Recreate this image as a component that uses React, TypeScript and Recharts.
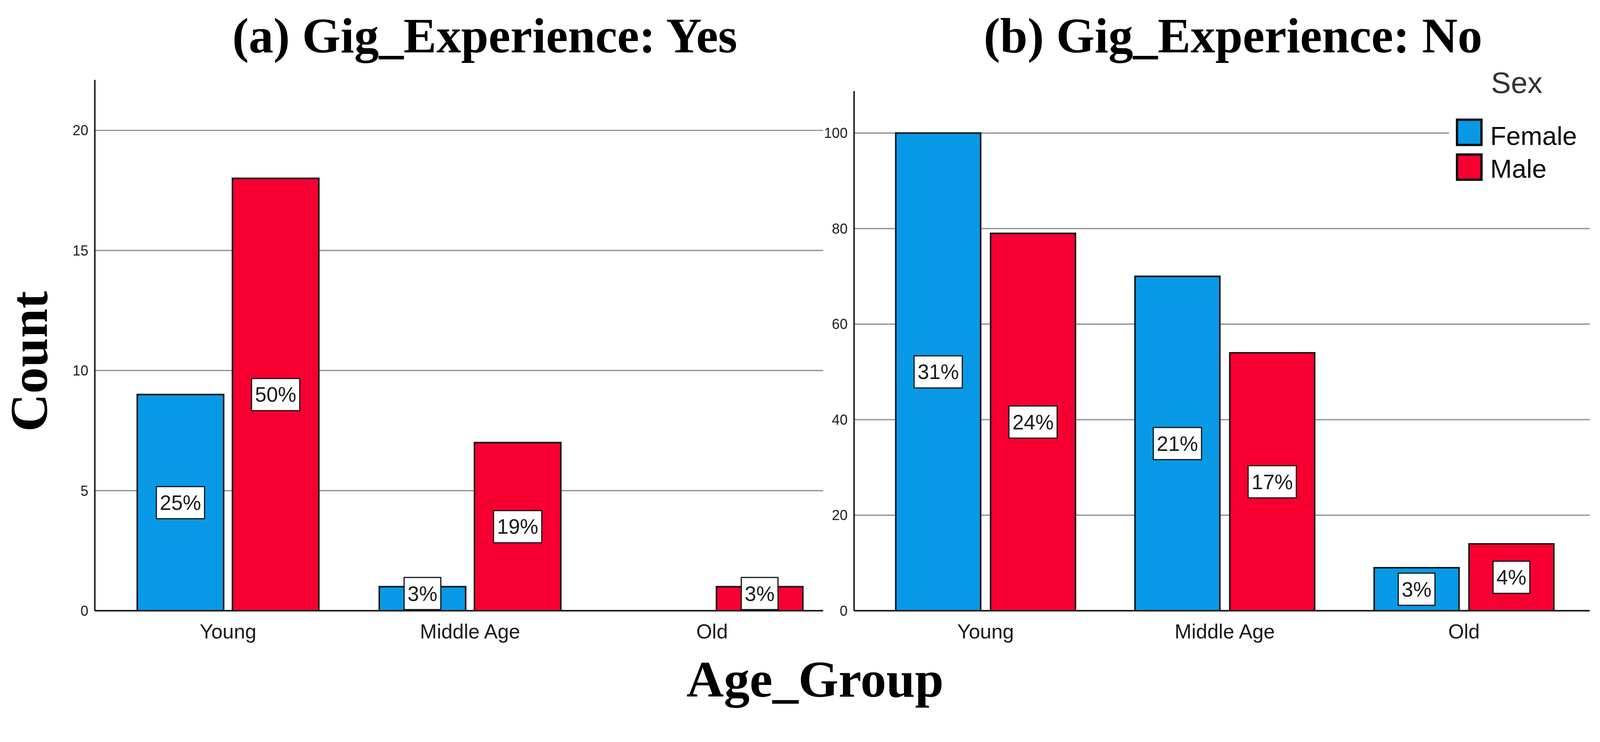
import React from 'react';
import { BarChart, Bar, XAxis, YAxis, CartesianGrid, LabelList, Legend } from 'recharts';

const ageGroups = ['Young', 'Middle Age', 'Old'];

// (a) Gig_Experience: Yes
const yesFemale = [9, 1, 0];
const yesMale = [18, 7, 1];
const yesFemalePct = ['25%', '3%', ''];
const yesMalePct = ['50%', '19%', '3%'];
const yesTicks = [0, 5, 10, 15, 20];

// (b) Gig_Experience: No
const noFemale = [100, 70, 9];
const noMale = [79, 54, 14];
const noFemalePct = ['31%', '21%', '3%'];
const noMalePct = ['24%', '17%', '4%'];
const noTicks = [0, 20, 40, 60, 80, 100];

const BLUE = '#0899e6';
const RED = '#f70031';
const EDGE = '#111418';
const SANS = '"Liberation Sans", Arial, sans-serif';
const SERIF = '"Liberation Serif", "Times New Roman", serif';

// the photo seems to cover 4096px of page width, so the layout below
// (measured on the 4185px reference) is scaled down to fit in it
const FIT = 4096 / 4185;

const buildRows = (f: number[], m: number[], fp: string[], mp: string[]) =>
  ageGroups.map((g, i) => ({ group: g, Female: f[i], Male: m[i], femalePct: fp[i], malePct: mp[i] }));

const yesRows = buildRows(yesFemale, yesMale, yesFemalePct, yesMalePct);
const noRows = buildRows(noFemale, noMale, noFemalePct, noMalePct);

const LABEL_FONT = 54;
const textWidth = (s: string) =>
  s.split('').reduce((w, c) => w + (c === '%' ? 0.889 : 0.556) * LABEL_FONT, 0);

// white percentage box in the middle of a bar, kept above the baseline
const PctBox = (props: any) => {
  const { x, y, width, height, value } = props;
  if (!value || !height) return null;
  const h = 84;
  const w = textWidth(String(value)) + 18;
  const cx = x + width / 2;
  const cy = Math.min(y + height / 2, y + height - h / 2 - 3);
  return (
    <g>
      <rect x={cx - w / 2} y={cy - h / 2} width={w} height={h} fill="#fff" stroke={EDGE} strokeWidth={3} />
      <text x={cx} y={cy + 19} textAnchor="middle" fontSize={LABEL_FONT} fontFamily={SANS} fill="#1a1a1a">
        {value}
      </text>
    </g>
  );
};

const CategoryTick = (props: any) => {
  const { x, y, payload } = props;
  return (
    <text x={x} y={y + 72} textAnchor="middle" fontSize={53} fontFamily={SANS} fill="#1a1a1a">
      {payload.value}
    </text>
  );
};

const LEG_W = 370;
const LEG_H = 330;

const SexLegend = (props: any) => {
  const items = props.payload || [];
  return (
    <svg width={LEG_W} height={LEG_H} style={{ display: 'block' }}>
      <rect width={LEG_W} height={LEG_H} fill="#fff" />
      <text x={110} y={78} fontSize={78} fontFamily={SANS} fill="#333">Sex</text>
      {items.map((p: any, i: number) => (
        <g key={p.value}>
          <rect x={21} y={148 + i * 91} width={64} height={66} fill={p.color} stroke="#0b0b0b" strokeWidth={6} />
          <text x={108} y={214 + i * 86} fontSize={68} fontFamily={SANS} fill="#0a0a0a">{p.value}</text>
        </g>
      ))}
    </svg>
  );
};

const axisLine = { stroke: '#1a1a1a', strokeWidth: 4 };
const tickStyle = { fontSize: 37, fill: '#222', fontFamily: SANS };

export default function App() {
  return (
    <div
      style={{
        position: 'absolute',
        left: 0,
        top: 0,
        width: 4185,
        height: 1899,
        background: '#fff',
        overflow: 'hidden',
        transform: `scale(${FIT})`,
        transformOrigin: '0 0',
      }}
    >
      <svg width={4185} height={1899} style={{ position: 'absolute', left: 0, top: 0 }}>
        <text x={1268} y={137} textAnchor="middle" fontSize={129} fontWeight="bold" fontFamily={SERIF}>
          (a) Gig_Experience: Yes
        </text>
        <text x={3225} y={137} textAnchor="middle" fontSize={129} fontWeight="bold" fontFamily={SERIF}>
          (b) Gig_Experience: No
        </text>
        <text transform="translate(123,945) rotate(-90)" textAnchor="middle" fontSize={138} fontWeight="bold" fontFamily={SERIF}>
          Count
        </text>
        <text x={2132} y={1822} textAnchor="middle" fontSize={135} fontWeight="bold" fontFamily={SERIF}>
          Age_Group
        </text>
      </svg>

      <div style={{ position: 'absolute', left: 0, top: 0 }}>
        <BarChart
          width={2180}
          height={1899}
          data={yesRows}
          margin={{ top: 209, right: 27, bottom: 202, left: 148 }}
          barSize={226}
          barGap={23}
        >
          <CartesianGrid vertical={false} horizontalValues={yesTicks} syncWithTicks stroke="#8a8a8a" strokeWidth={3} />
          <XAxis
            dataKey="group"
            height={100}
            tickLine={false}
            tickSize={0}
            tickMargin={0}
            axisLine={axisLine}
            padding={{ left: 32, right: -26 }}
            tick={<CategoryTick />}
            interval={0}
          />
          <YAxis
            width={100}
            domain={[0, 22.1]}
            ticks={yesTicks}
            tickLine={false}
            tickSize={0}
            tickMargin={17}
            axisLine={axisLine}
            tick={tickStyle}
          />
          <Bar dataKey="Female" fill={BLUE} stroke={EDGE} strokeWidth={4} isAnimationActive={false}>
            <LabelList dataKey="femalePct" content={<PctBox />} />
          </Bar>
          <Bar dataKey="Male" fill={RED} stroke={EDGE} strokeWidth={4} isAnimationActive={false}>
            <LabelList dataKey="malePct" content={<PctBox />} />
          </Bar>
        </BarChart>
      </div>

      <div style={{ position: 'absolute', left: 2140, top: 0 }}>
        <BarChart
          width={2045}
          height={1899}
          data={noRows}
          margin={{ top: 238, right: 27, bottom: 202, left: 14 }}
          barSize={222}
          barGap={26}
        >
          <CartesianGrid vertical={false} horizontalValues={noTicks} syncWithTicks stroke="#8a8a8a" strokeWidth={3} />
          <XAxis
            dataKey="group"
            height={100}
            tickLine={false}
            tickSize={0}
            tickMargin={0}
            axisLine={axisLine}
            padding={{ left: 31, right: 16 }}
            tick={<CategoryTick />}
            interval={0}
          />
          <YAxis
            width={80}
            domain={[0, 108.8]}
            ticks={noTicks}
            tickLine={false}
            tickSize={0}
            tickMargin={17}
            axisLine={axisLine}
            tick={tickStyle}
          />
          <Legend
            layout="horizontal"
            verticalAlign="middle"
            align="center"
            content={<SexLegend />}
            wrapperStyle={{ position: 'absolute', left: 1650, top: 165, right: 'auto', bottom: 'auto', width: LEG_W, height: LEG_H, overflow: 'hidden' }}
          />
          <Bar dataKey="Female" fill={BLUE} stroke={EDGE} strokeWidth={4} isAnimationActive={false}>
            <LabelList dataKey="femalePct" content={<PctBox />} />
          </Bar>
          <Bar dataKey="Male" fill={RED} stroke={EDGE} strokeWidth={4} isAnimationActive={false}>
            <LabelList dataKey="malePct" content={<PctBox />} />
          </Bar>
        </BarChart>
      </div>
    </div>
  );
}
